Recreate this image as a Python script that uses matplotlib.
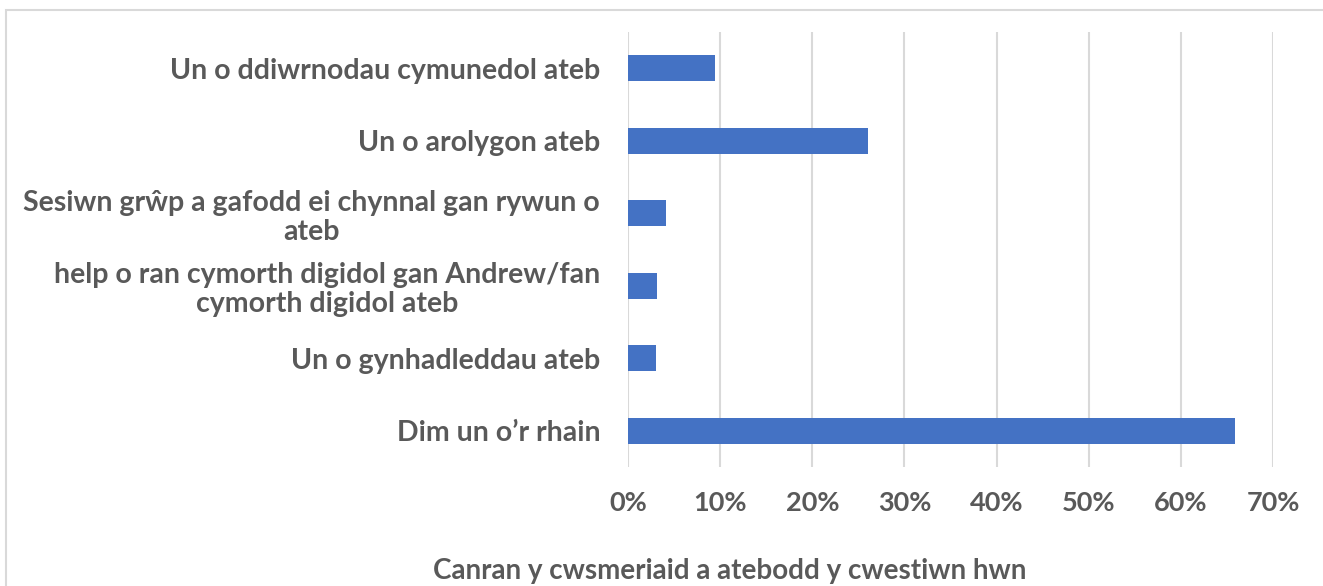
import matplotlib.pyplot as plt
from matplotlib.patches import Rectangle
from matplotlib.ticker import PercentFormatter

# data (top to bottom)
categories = [
    "Un o ddiwrnodau cymunedol ateb",
    "Un o arolygon ateb",
    "Sesiwn grŵp a gafodd ei chynnal gan rywun o\nateb",
    "help o ran cymorth digidol gan Andrew/fan\ncymorth digidol ateb",
    "Un o gynhadleddau ateb",
    "Dim un o’r rhain",
]
shares = [9.4, 26.0, 4.1, 3.2, 3.0, 65.9]
xticks = [0, 10, 20, 30, 40, 50, 60, 70]
xlabel = "Canran y cwsmeriaid a atebodd y cwestiwn hwn"

TEXT = "#595959"
BAR = "#4472C4"
GRID = "#D9D9D9"

plt.rcParams["font.family"] = ["Lato", "DejaVu Sans"]
plt.rcParams["font.weight"] = "bold"

fig = plt.figure(figsize=(13.23, 5.86), dpi=100)
ax = fig.add_axes([628 / 1323, 1 - 467 / 586, (1273 - 628) / 1323, (467 - 32) / 586])

# chart frame (cropped at right and bottom)
fig.patches.append(Rectangle((6 / 1323, -0.1), 1.2, 1 - 10 / 586 + 0.1,
                             transform=fig.transFigure, fill=False,
                             edgecolor=GRID, linewidth=1.5))

y = range(len(categories))
ax.barh(y, shares, height=0.36, color=BAR, zorder=3)
ax.set_yticks(list(y))
ax.set_yticklabels(categories)
ax.set_ylim(len(categories) - 0.5, -0.5)

ax.set_xlim(0, 70)
ax.set_xticks(xticks)
ax.xaxis.set_major_formatter(PercentFormatter(decimals=0))
ax.grid(axis="x", color=GRID, linewidth=1.5, zorder=0)

for s in ax.spines.values():
    s.set_visible(False)
ax.tick_params(axis="y", length=0, colors=TEXT, labelsize=20.5, pad=20)
ax.tick_params(axis="x", length=0, colors=TEXT, labelsize=19.5, pad=17)
for lab in ax.get_yticklabels():
    lab.set_multialignment("center")
    lab.set_fontweight("bold")
    lab.set_linespacing(1.15)
for lab in ax.get_xticklabels():
    lab.set_fontweight("bold")

fig.text(730 / 1323, 1 - 571 / 586, xlabel, ha="center", va="center",
         fontsize=20, color=TEXT, fontweight="bold")

fig.savefig("out.png", dpi=100)
